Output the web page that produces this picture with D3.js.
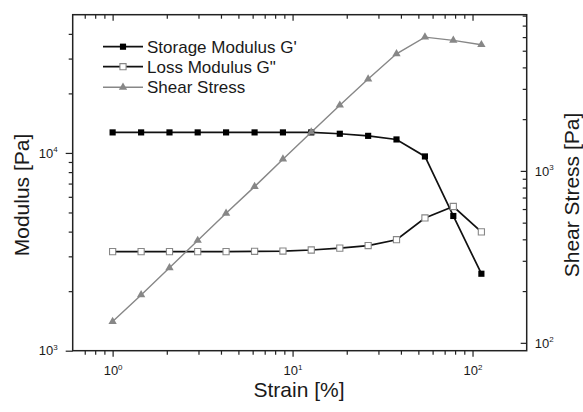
<!DOCTYPE html>
<html>
<head>
<meta charset="utf-8">
<script src="https://cdn.jsdelivr.net/npm/d3@7"></script>
<style>
  html, body { margin: 0; padding: 0; background: #fff; }
  svg { display: block; }
  text { font-family: "Liberation Sans", Arial, Helvetica, sans-serif; fill: #1a1a1a; }
</style>
</head>
<body>
<svg id="chart" width="583" height="412"></svg>
<script>
// Strain sweep: moduli on the left log axis, shear stress on the right log axis
const strain  = [1, 1.44, 2.07, 2.97, 4.27, 6.15, 8.84, 12.7, 18.3, 26.3, 37.8, 54.4, 78.2, 112];
const storage = [12700, 12700, 12700, 12700, 12700, 12700, 12700, 12700, 12500, 12200, 11700, 9600, 4800, 2450];
const loss    = [3170, 3170, 3170, 3170, 3170, 3180, 3190, 3230, 3300, 3400, 3640, 4690, 5360, 3990];
const shear   = [133, 190, 273, 394, 567, 810, 1170, 1680, 2410, 3420, 4800, 6000, 5740, 5420];

const seriesNames = ["Storage Modulus G'", "Loss Modulus G\"", "Shear Stress"];
const xTicks = [1, 10, 100];
const yLeftTicks = [1000, 10000];
const yRightTicks = [100, 1000];

const svg = d3.select("#chart");
const plot = { left: 72.7, right: 526.7, top: 14.7, bottom: 350.7 };
const gray = "#878787";

const x  = d3.scaleLog().domain([0.6, 200]).range([plot.left, plot.right]);
const yL = d3.scaleLog().domain([1000, 50000]).range([plot.bottom, plot.top]);
const yR = d3.scaleLog().domain([90, 8100]).range([plot.bottom, plot.top]);

// minor tick values inside a domain (2..9 times each decade)
function minors(domain) {
  const out = [];
  for (let e = -2; e <= 5; e++) {
    for (let k = 2; k <= 9; k++) {
      const v = k * Math.pow(10, e);
      if (v > domain[0] * 1.0001 && v < domain[1] * 0.9999) out.push(v);
    }
  }
  return out;
}

// superscript power-of-ten labels
function powLabels(g) {
  g.selectAll(".tick text").each(function(d) {
    const t = d3.select(this);
    const exp = Math.round(Math.log10(d));
    t.text(null);
    t.append("tspan").text("10");
    t.append("tspan").attr("dy", "-5.3").style("font-size", "8px").text(exp);
  });
}

function styleAxis(g) {
  g.select(".domain").remove();
  g.selectAll(".tick line").attr("stroke", "#222").attr("stroke-width", 1.2);
  g.selectAll(".tick text").style("font-size", "13px").attr("fill", "#1a1a1a");
}

// bottom axis (outward ticks)
svg.append("g").attr("transform", `translate(0,${plot.bottom})`)
  .call(d3.axisBottom(x).tickValues(minors(x.domain())).tickSize(4).tickFormat(""))
  .call(styleAxis);
svg.append("g").attr("transform", `translate(0,${plot.bottom})`)
  .call(d3.axisBottom(x).tickValues(xTicks).tickSize(6).tickPadding(9).tickFormat(d => d))
  .call(styleAxis).call(powLabels);

// top axis (inward ticks, no labels)
svg.append("g").attr("transform", `translate(0,${plot.top})`)
  .call(d3.axisTop(x).tickValues(minors(x.domain())).tickSize(-4).tickFormat(""))
  .call(styleAxis);
svg.append("g").attr("transform", `translate(0,${plot.top})`)
  .call(d3.axisTop(x).tickValues(xTicks).tickSize(-6).tickFormat(""))
  .call(styleAxis);

// left axis (outward ticks)
svg.append("g").attr("transform", `translate(${plot.left},0)`)
  .call(d3.axisLeft(yL).tickValues(minors(yL.domain())).tickSize(4).tickFormat(""))
  .call(styleAxis);
svg.append("g").attr("transform", `translate(${plot.left},0)`)
  .call(d3.axisLeft(yL).tickValues(yLeftTicks).tickSize(7).tickPadding(8).tickFormat(d => d))
  .call(styleAxis).call(powLabels);

// right axis (inward ticks, labels outside)
svg.append("g").attr("transform", `translate(${plot.right},0)`)
  .call(d3.axisRight(yR).tickValues(minors(yR.domain())).tickSize(-4).tickFormat(""))
  .call(styleAxis);
svg.append("g").attr("transform", `translate(${plot.right},0)`)
  .call(d3.axisRight(yR).tickValues(yRightTicks).tickSize(-6).tickPadding(8).tickFormat(d => d))
  .call(styleAxis).call(powLabels);

// frame
svg.append("rect")
  .attr("x", plot.left).attr("y", plot.top)
  .attr("width", plot.right - plot.left).attr("height", plot.bottom - plot.top)
  .attr("fill", "none").attr("stroke", "#222").attr("stroke-width", 1.5);

// axis titles
svg.append("text").attr("x", 299).attr("y", 397).attr("text-anchor", "middle")
  .style("font-size", "21px").text("Strain [%]");
svg.append("text").attr("transform", "translate(28.5,195) rotate(-90)").attr("text-anchor", "middle")
  .style("font-size", "21px").text("Modulus [Pa]");
svg.append("text").attr("transform", "translate(579,195) rotate(-90)").attr("text-anchor", "middle")
  .style("font-size", "21px").text("Shear Stress [Pa]");

// series
const pts = (vals, ys) => strain.map((s, i) => [x(s), ys(vals[i])]);
const line = d3.line();
const sqSym = d3.symbol().type(d3.symbolSquare).size(38);
const triSym = d3.symbol().type(d3.symbolTriangle).size(30);

const gStorage = pts(storage, yL), gLoss = pts(loss, yL), gShear = pts(shear, yR);

svg.append("path").attr("d", line(gStorage)).attr("fill", "none").attr("stroke", "#111").attr("stroke-width", 1.7);
svg.append("path").attr("d", line(gLoss)).attr("fill", "none").attr("stroke", "#111").attr("stroke-width", 1.7);

svg.append("g").selectAll("path").data(gStorage).join("path")
  .attr("transform", d => `translate(${d[0]},${d[1]})`).attr("d", sqSym).attr("fill", "#000");
svg.append("g").selectAll("path").data(gLoss).join("path")
  .attr("transform", d => `translate(${d[0]},${d[1]})`).attr("d", sqSym)
  .attr("fill", "#fff").attr("stroke", gray).attr("stroke-width", 1.1);

svg.append("path").attr("d", line(gShear)).attr("fill", "none").attr("stroke", gray).attr("stroke-width", 1.4);
svg.append("g").selectAll("path").data(gShear).join("path")
  .attr("transform", d => `translate(${d[0]},${d[1]})`).attr("d", triSym).attr("fill", gray);

// legend
const legend = svg.append("g");
const rows = [46.7, 66.7, 87.3];
const legStyles = [
  { stroke: "#111", sym: sqSym, fill: "#000", mstroke: "none" },
  { stroke: "#111", sym: sqSym, fill: "#fff", mstroke: gray },
  { stroke: gray, sym: triSym, fill: gray, mstroke: "none" }
];
seriesNames.forEach((name, i) => {
  const y = rows[i], s = legStyles[i];
  legend.append("line").attr("x1", 103).attr("x2", 143).attr("y1", y).attr("y2", y)
    .attr("stroke", s.stroke).attr("stroke-width", i === 2 ? 1.4 : 1.7);
  legend.append("path").attr("transform", `translate(123,${y})`).attr("d", s.sym)
    .attr("fill", s.fill).attr("stroke", s.mstroke).attr("stroke-width", 1.1);
  legend.append("text").attr("x", 147).attr("y", y + 6).style("font-size", "17px").text(name);
});
</script>
</body>
</html>
